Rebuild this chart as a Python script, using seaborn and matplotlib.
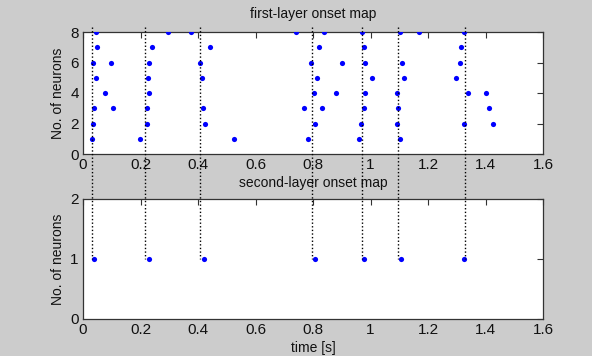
import matplotlib
matplotlib.use("Agg")
import matplotlib.pyplot as plt
import seaborn as sns
import numpy as np
import pandas as pd

# first-layer onsets: (time [s], neuron index)
first_time = [0.046, 0.047, 0.034, 0.044, 0.039, 0.035, 0.031, 0.075, 0.098, 0.103,
              0.197, 0.239, 0.229, 0.225, 0.229, 0.221, 0.221,
              0.296, 0.376, 0.407, 0.415, 0.418, 0.423, 0.442, 0.524,
              0.741, 0.770, 0.781, 0.794, 0.802, 0.806, 0.814, 0.820, 0.837, 0.833,
              0.900, 0.881,
              0.971, 0.976, 0.981, 1.006, 0.981, 0.976, 0.967, 0.959,
              1.102, 1.110, 1.117, 1.093, 1.097, 1.093, 1.102, 1.169,
              1.326, 1.315, 1.311, 1.299, 1.339, 1.326,
              1.401, 1.413, 1.426]
first_neuron = [8, 7, 6, 5, 3, 2, 1, 4, 6, 3,
                1, 7, 6, 5, 4, 3, 2,
                8, 8, 6, 5, 3, 2, 7, 1,
                8, 3, 1, 6, 4, 2, 5, 7, 8, 3,
                6, 4,
                8, 7, 6, 5, 4, 3, 2, 1,
                8, 6, 5, 4, 3, 2, 1, 8,
                8, 7, 6, 5, 4, 2,
                4, 3, 2]

# second-layer onsets
second_time = [0.037, 0.229, 0.422, 0.808, 0.978, 1.105, 1.324]
second_neuron = [1, 1, 1, 1, 1, 1, 1]

# detected onset markers (dotted lines)
onset_lines = [0.030, 0.217, 0.406, 0.795, 0.970, 1.097, 1.328]
line_top = 8.35   # in first-layer units
line_bottom = 1   # in second-layer units

x_ticks = [0, 0.2, 0.4, 0.6, 0.8, 1, 1.2, 1.4, 1.6]
x_tick_labels = ["0", "0.2", "0.4", "0.6", "0.8", "1", "1.2", "1.4", "1.6"]

sns.set_style("white")
plt.rcParams['font.family'] = ['Liberation Sans', 'DejaVu Sans']
plt.rcParams['text.color'] = '#111111'
plt.rcParams['axes.labelcolor'] = '#111111'
plt.rcParams['xtick.color'] = '#333333'
plt.rcParams['ytick.color'] = '#333333'

bg = '#cccccc'
fig = plt.figure(figsize=(5.92, 3.56), dpi=100, facecolor=bg)
W, H = 592, 356
ax1 = fig.add_axes([83 / W, 1 - 154 / H, 460 / W, 122 / H])
ax2 = fig.add_axes([83 / W, 1 - 319 / H, 460 / W, 120 / H])

df1 = pd.DataFrame({'t': first_time, 'n': first_neuron})
df2 = pd.DataFrame({'t': second_time, 'n': second_neuron})

sns.scatterplot(data=df1, x='t', y='n', ax=ax1, color='#0000ff', s=14,
                linewidth=0, legend=False, zorder=3)
sns.scatterplot(data=df2, x='t', y='n', ax=ax2, color='#0000ff', s=14,
                linewidth=0, legend=False, zorder=3)

for ax, yt in ((ax1, [0, 2, 4, 6, 8]), (ax2, [0, 1, 2])):
    ax.set_facecolor('white')
    ax.set_xlim(0, 1.6)
    ax.set_ylim(yt[0], yt[-1])
    ax.set_xticks(x_ticks)
    ax.set_xticklabels(x_tick_labels)
    ax.set_yticks(yt)
    ax.tick_params(direction='in', length=4, width=0.8,
                   top=True, right=True, labelsize=11, pad=3,
                   labelcolor='#111111')
    for sp in ax.spines.values():
        sp.set_color('#333333')
        sp.set_linewidth(0.9)
        sp.set_visible(True)
    ax.set_ylabel('No. of neurons', fontsize=10, labelpad=4)
    ax.set_xlabel('')

ax1.set_title('first-layer onset map', fontsize=10, pad=10)
ax2.set_title('second-layer onset map', fontsize=10, pad=9)
ax2.set_xlabel('time [s]', fontsize=10, labelpad=3)

# dotted lines spanning both panels, drawn in the second panel (on top)
to_ax2 = ax1.transData + ax2.transData.inverted()
for t in onset_lines:
    _, y_start = to_ax2.transform((t, line_top))
    ax2.plot([t, t], [y_start, line_bottom], color='black', linewidth=1.0,
             linestyle=(0, (1, 1.6)), clip_on=False, zorder=5)

fig.savefig('out.png', dpi=100, facecolor=bg)
